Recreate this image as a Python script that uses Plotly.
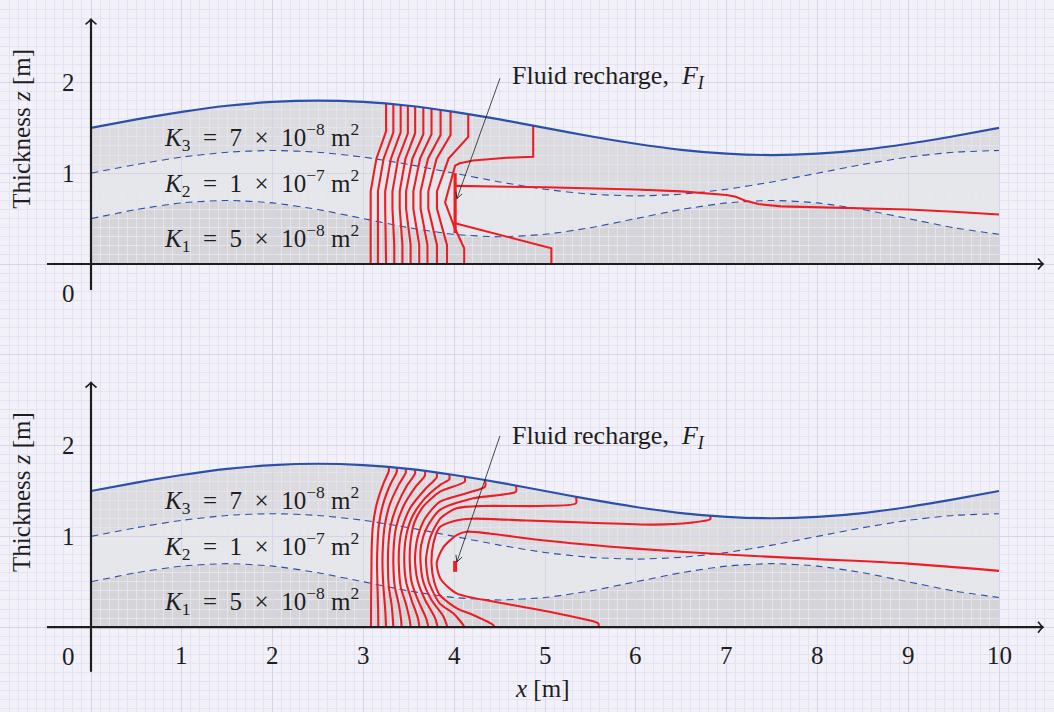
import plotly.graph_objects as go

# ---------------- data ----------------
x_profile = [0.0, 0.5, 1.0, 1.5, 2.0, 2.5, 3.0, 3.5, 4.0, 4.5, 5.0,
             5.5, 6.0, 6.5, 7.0, 7.5, 8.0, 8.5, 9.0, 9.5, 10.0]
top_surface = [1.50, 1.593, 1.676, 1.743, 1.785, 1.80, 1.785, 1.743, 1.676, 1.593, 1.50,
               1.407, 1.324, 1.257, 1.215, 1.20, 1.215, 1.257, 1.324, 1.407, 1.50]
upper_interface = [1.0, 1.096, 1.177, 1.231, 1.25, 1.231, 1.177, 1.096, 1.0, 0.904, 0.823,
                   0.769, 0.75, 0.769, 0.823, 0.904, 1.0, 1.096, 1.177, 1.231, 1.25]
lower_interface = [0.5, 0.6, 0.673, 0.7, 0.673, 0.6, 0.5, 0.4, 0.327, 0.3, 0.327,
                   0.4, 0.5, 0.6, 0.673, 0.7, 0.673, 0.6, 0.5, 0.4, 0.327]

layer_labels = ["<i>K</i><sub>3</sub>\u2002=\u20027\u2002×\u200210<sup>−8</sup>\u2005m<sup>2</sup>",
                "<i>K</i><sub>2</sub>\u2002=\u20021\u2002×\u200210<sup>−7</sup>\u2005m<sup>2</sup>",
                "<i>K</i><sub>1</sub>\u2002=\u20025\u2002×\u200210<sup>−8</sup>\u2005m<sup>2</sup>"]
layer_label_y = [1.40, 0.89, 0.286]
recharge_label = "Fluid recharge,\u2002<i>F</i><sub><i>I</i></sub>"

x_ticks = [1, 2, 3, 4, 5, 6, 7, 8, 9, 10]
y_ticks = [1, 2]

# source (fluid recharge) segments
source_top_x = [4.01, 4.01]
source_top_y = [0.34, 1.0]
source_bot_x = [4.01, 4.01]
source_bot_y = [0.61, 0.73]

# --- upper panel contours (piecewise straight) ---
contours_top = [
    ([3.25, 3.25, 3.143, 3.08, 3.08, 3.08, 3.08], [1.767, 1.46, 1.16, 0.80, 0.61, 0.21, 0.0]),
    ([3.33, 3.33, 3.223, 3.16, 3.16, 3.16, 3.16], [1.760, 1.45, 1.16, 0.80, 0.61, 0.21, 0.0]),
    ([3.41, 3.41, 3.303, 3.24, 3.24, 3.25, 3.25], [1.752, 1.45, 1.16, 0.80, 0.61, 0.21, 0.0]),
    ([3.49, 3.49, 3.383, 3.32, 3.32, 3.34, 3.34], [1.744, 1.44, 1.16, 0.80, 0.61, 0.21, 0.0]),
    ([3.57, 3.57, 3.463, 3.40, 3.40, 3.43, 3.43], [1.735, 1.44, 1.16, 0.80, 0.61, 0.21, 0.0]),
    ([3.66, 3.66, 3.540, 3.47, 3.47, 3.52, 3.52], [1.724, 1.43, 1.16, 0.80, 0.61, 0.21, 0.0]),
    ([3.75, 3.75, 3.624, 3.55, 3.55, 3.615, 3.615], [1.712, 1.43, 1.16, 0.80, 0.61, 0.21, 0.0]),
    ([3.85, 3.85, 3.711, 3.63, 3.63, 3.705, 3.705], [1.698, 1.42, 1.16, 0.80, 0.61, 0.21, 0.0]),
    ([3.96, 3.96, 3.806, 3.715, 3.715, 3.81, 3.81], [1.682, 1.42, 1.16, 0.80, 0.61, 0.21, 0.0]),
    ([4.155, 4.155, 3.938, 3.81, 3.81, 3.92, 3.92], [1.652, 1.40, 1.16, 0.80, 0.61, 0.21, 0.0]),
    ([4.87, 4.87, 4.58, 4.21, 4.06, 4.01, 3.90, 4.00, 4.11, 4.11],
     [1.525, 1.18, 1.17, 1.14, 1.11, 1.083, 0.68, 0.41, 0.173, 0.0]),
    ([4.01, 5.07, 5.07], [0.448, 0.174, 0.0]),
    ([4.01, 5.0, 6.0, 6.5, 7.0, 7.1, 7.2, 7.35, 7.6, 8.0, 9.0, 9.5, 10.0],
     [0.86, 0.845, 0.82, 0.80, 0.76, 0.74, 0.70, 0.66, 0.635, 0.625, 0.60, 0.575, 0.545]),
]

# --- lower panel contours (smooth) ---
contours_bot = [
    ([10.0, 9.0, 8.0, 7.0, 6.0, 4.945, 4.4, 4.137, 4.027, 3.88, 3.807, 3.85, 4.027, 4.43, 4.945, 5.31, 5.587, 5.59],
     [0.62, 0.70, 0.75, 0.80, 0.865, 0.96, 1.03, 1.052, 1.015, 0.88, 0.704, 0.53, 0.373, 0.282, 0.19, 0.116, 0.043, 0.0]),
    ([6.82, 6.82, 6.6, 6.2, 5.5, 4.8, 4.2, 4.0, 3.84, 3.77, 3.75, 3.78, 3.84, 4.03, 4.21, 4.43, 4.442],
     [1.227, 1.19, 1.15, 1.13, 1.15, 1.175, 1.195, 1.17, 1.10, 0.92, 0.70, 0.50, 0.355, 0.208, 0.134, 0.024, 0.0]),
    ([5.341, 5.341, 4.945, 4.32, 4.027, 3.85, 3.74, 3.69, 3.72, 3.84, 3.99, 4.10, 4.108],
     [1.436, 1.364, 1.335, 1.335, 1.31, 1.2, 1.0, 0.75, 0.5, 0.263, 0.153, 0.024, 0.0]),
    ([4.68, 4.68, 4.21, 3.84, 3.70, 3.635, 3.63, 3.66, 3.75, 3.88, 3.925],
     [1.56, 1.492, 1.42, 1.29, 1.1, 0.9, 0.7, 0.5, 0.3, 0.12, 0.0]),
    ([4.339, 4.339, 3.844, 3.68, 3.60, 3.57, 3.57, 3.60, 3.68, 3.79, 3.818],
     [1.621, 1.547, 1.382, 1.2, 1.0, 0.8, 0.7, 0.5, 0.3, 0.1, 0.0]),
    ([4.115, 4.115, 3.844, 3.66, 3.56, 3.52, 3.51, 3.53, 3.60, 3.69, 3.715],
     [1.659, 1.602, 1.492, 1.33, 1.15, 0.95, 0.75, 0.5, 0.3, 0.1, 0.0]),
    ([3.946, 3.946, 3.85, 3.66, 3.53, 3.47, 3.45, 3.47, 3.53, 3.60, 3.616],
     [1.684, 1.63, 1.57, 1.40, 1.2, 1.0, 0.75, 0.5, 0.3, 0.1, 0.0]),
    ([3.807, 3.807, 3.68, 3.52, 3.43, 3.395, 3.39, 3.41, 3.47, 3.51, 3.52],
     [1.705, 1.65, 1.52, 1.32, 1.1, 0.9, 0.7, 0.45, 0.25, 0.08, 0.0]),
    ([3.678, 3.678, 3.57, 3.44, 3.36, 3.335, 3.33, 3.345, 3.39, 3.415, 3.421],
     [1.721, 1.67, 1.54, 1.33, 1.1, 0.9, 0.7, 0.45, 0.25, 0.08, 0.0]),
    ([3.568, 3.568, 3.48, 3.37, 3.30, 3.275, 3.27, 3.28, 3.31, 3.325, 3.329],
     [1.735, 1.69, 1.56, 1.34, 1.12, 0.9, 0.7, 0.45, 0.25, 0.08, 0.0]),
    ([3.466, 3.466, 3.39, 3.29, 3.235, 3.215, 3.21, 3.22, 3.24, 3.249],
     [1.746, 1.70, 1.57, 1.35, 1.12, 0.9, 0.7, 0.45, 0.2, 0.0]),
    ([3.367, 3.367, 3.30, 3.215, 3.17, 3.155, 3.15, 3.155, 3.162, 3.164],
     [1.757, 1.71, 1.58, 1.35, 1.12, 0.9, 0.7, 0.45, 0.2, 0.0]),
    ([3.28, 3.28, 3.22, 3.145, 3.105, 3.092, 3.088, 3.085, 3.084],
     [1.765, 1.72, 1.58, 1.35, 1.12, 0.9, 0.6, 0.3, 0.0]),
]

# ---------------- styling ----------------
BG = "#F2F1F9"
GRID_MAJOR = "#D6D3EA"
GRID_MINOR = "#E5E3F2"
K1_FILL = "#D5D5D7"
K2_FILL = "#E6E7E8"
K3_FILL = "#DCDCDF"
BLUE = "#2C50A8"
RED = "#EE1C25"
INK = "#1E1E1E"
FONT = "Liberation Serif"
FS = 25

# axis ranges: one data unit = 90.8 px, origin of top panel at (91, 264) px
UNIT = 90.8
XR = [-91 / UNIT, (1054 - 91) / UNIT]
YR_TOP = [(264 - 712) / UNIT, 264 / UNIT]
YR_BOT = [YR_TOP[0] + 4, YR_TOP[1] + 4]

fig = go.Figure()


def band_path(xs, lower, upper):
    pts = ["M {},{}".format(xs[0], lower[0])]
    pts += ["L {},{}".format(x, y) for x, y in zip(xs[1:], lower[1:])]
    pts += ["L {},{}".format(x, y) for x, y in zip(xs[::-1], upper[::-1])]
    return " ".join(pts) + " Z"


zeros = [0.0] * len(x_profile)
shapes = []
annotations = []
for yref, ya in (("y", "y"), ("y2", "y2")):
    for lo, hi, col in ((zeros, lower_interface, K1_FILL),
                        (lower_interface, upper_interface, K2_FILL),
                        (upper_interface, top_surface, K3_FILL)):
        shapes.append(dict(type="path", path=band_path(x_profile, lo, hi),
                           xref="x", yref=yref, layer="below",
                           fillcolor=col, line=dict(width=0)))

    # dashed interfaces
    for prof in (lower_interface, upper_interface):
        fig.add_trace(go.Scatter(x=x_profile, y=prof, mode="lines", yaxis=ya,
                                 line=dict(color=BLUE, width=1.1, dash="7px,5px", shape="spline", smoothing=0.6),
                                 hoverinfo="skip", showlegend=False))

# red contours
for xs, ys in contours_top:
    fig.add_trace(go.Scatter(x=xs, y=ys, mode="lines", yaxis="y",
                             line=dict(color=RED, width=2.1),
                             hoverinfo="skip", showlegend=False))
for xs, ys in contours_bot:
    fig.add_trace(go.Scatter(x=xs, y=ys, mode="lines", yaxis="y2",
                             line=dict(color=RED, width=2.1, shape="spline", smoothing=0.7),
                             hoverinfo="skip", showlegend=False))
fig.add_trace(go.Scatter(x=source_top_x, y=source_top_y, mode="lines", yaxis="y",
                         line=dict(color=RED, width=3.2), hoverinfo="skip", showlegend=False))
fig.add_trace(go.Scatter(x=source_bot_x, y=source_bot_y, mode="lines", yaxis="y2",
                         line=dict(color=RED, width=4), hoverinfo="skip", showlegend=False))

# top surfaces
for ya in ("y", "y2"):
    fig.add_trace(go.Scatter(x=x_profile, y=top_surface, mode="lines", yaxis=ya,
                             line=dict(color=BLUE, width=2.2, shape="spline", smoothing=0.6),
                             hoverinfo="skip", showlegend=False))

# axes with arrows, labels
panels = [("y", -0.286, 2.06, 2.045), ("y2", -0.49, 2.095, 2.107)]
for yref, ybottom, text_y, arrow_y in panels:
    shapes.append(dict(type="line", xref="x", yref=yref, x0=-0.485, x1=10.485, y0=0, y1=0,
                       line=dict(color=INK, width=2.2), layer="above"))
    shapes.append(dict(type="line", xref="x", yref=yref, x0=0, x1=0, y0=ybottom, y1=2.695,
                       line=dict(color=INK, width=2.2), layer="above"))
    shapes.append(dict(type="path", xref="x", yref=yref, xsizemode="pixel", ysizemode="pixel",
                       xanchor=10.485, yanchor=0, path="M -5,5.5 Q -2,1.5 0,0 Q -2,-1.5 -5,-5.5",
                       line=dict(color=INK, width=1.6), layer="above"))
    shapes.append(dict(type="path", xref="x", yref=yref, xsizemode="pixel", ysizemode="pixel",
                       xanchor=0, yanchor=2.695, path="M -5.5,-5 Q -1.5,-2 0,0 Q 1.5,-2 5.5,-5",
                       line=dict(color=INK, width=1.6), layer="above"))
    # recharge arrow
    shapes.append(dict(type="line", xref="x", yref=yref, x0=4.504, y0=arrow_y, x1=4.03, y1=0.72,
                       line=dict(color=INK, width=0.8), layer="above"))
    shapes.append(dict(type="path", xref="x", yref=yref, xsizemode="pixel", ysizemode="pixel",
                       xanchor=4.03, yanchor=0.72, path="M 5.2,4.7 L 0,0 L -1.0,6.9",
                       line=dict(color=INK, width=0.9), layer="above"))
    annotations.append(dict(x=4.615, y=text_y, xref="x", yref=yref, xanchor="left", yanchor="middle",
                            text=recharge_label, showarrow=False,
                            font=dict(family=FONT, size=26, color=INK)))
    for txt, ly in zip(layer_labels, layer_label_y):
        annotations.append(dict(x=1.873, y=ly, xref="x", yref=yref, xanchor="center", yanchor="middle",
                                text=txt, showarrow=False, font=dict(family=FONT, size=FS, color=INK)))
    for t in y_ticks:
        annotations.append(dict(x=-0.253, y=t, xref="x", yref=yref, text=str(t), showarrow=False,
                                xanchor="center", yanchor="middle", font=dict(family=FONT, size=FS, color=INK)))
    annotations.append(dict(x=-0.253, y=-0.32, xref="x", yref=yref, text="0", showarrow=False,
                            xanchor="center", yanchor="middle", font=dict(family=FONT, size=FS, color=INK)))
    annotations.append(dict(x=-0.76, y=1.49, xref="x", yref=yref, text="Thickness <i>z</i> [m]",
                            textangle=-90, showarrow=False, xanchor="center", yanchor="middle",
                            font=dict(family=FONT, size=FS, color=INK)))

for t in x_ticks:
    annotations.append(dict(x=t, y=-0.317, xref="x", yref="y2", text=str(t), showarrow=False,
                            xanchor="center", yanchor="middle", font=dict(family=FONT, size=FS, color=INK)))
annotations.append(dict(x=4.967, y=-0.68, xref="x", yref="y2", text="<i>x</i> [m]", showarrow=False,
                        xanchor="center", yanchor="middle", font=dict(family=FONT, size=FS, color=INK)))

fig.update_layout(
    width=1054, height=712,
    margin=dict(l=0, r=0, t=0, b=0),
    paper_bgcolor=BG, plot_bgcolor=BG,
    shapes=shapes, annotations=annotations,
    xaxis=dict(range=XR, dtick=1, tick0=0, showgrid=True, gridcolor=GRID_MAJOR, gridwidth=1,
               minor=dict(dtick=0.1, tick0=0, showgrid=True, gridcolor=GRID_MINOR, gridwidth=1),
               showticklabels=False, ticks="", zeroline=False, showline=False, fixedrange=True),
    yaxis=dict(range=YR_TOP, dtick=1, tick0=0, showgrid=True, gridcolor=GRID_MAJOR, gridwidth=1,
               minor=dict(dtick=0.1, tick0=0, showgrid=True, gridcolor=GRID_MINOR, gridwidth=1),
               showticklabels=False, ticks="", zeroline=False, showline=False, fixedrange=True),
    yaxis2=dict(range=YR_BOT, overlaying="y", visible=False, showgrid=False, zeroline=False, fixedrange=True),
    showlegend=False,
)

fig.write_html("out.html")
